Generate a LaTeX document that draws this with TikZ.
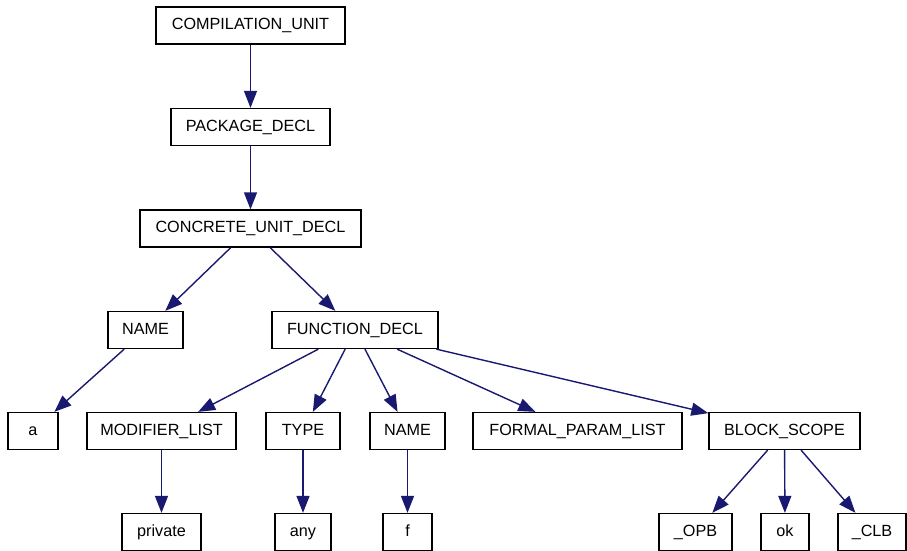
\documentclass[tikz,border=0pt]{standalone}
\usepackage{fontspec}
\setmainfont{Liberation Sans}
\usetikzlibrary{arrows.meta}
\definecolor{edgeblue}{RGB}{25,25,112}
\begin{document}
\begin{tikzpicture}[x=1pt,y=-1pt,
  tnode/.style={draw=black, line width=1.3pt, fill=white, inner sep=0pt,
    minimum height=37pt, text height=12pt, text depth=3.4pt,
    font=\fontsize{16.2}{19}\selectfont},
  edge/.style={draw=edgeblue, line width=1.4pt,
    -{Triangle[length=17pt,width=13pt]}}]
\useasboundingbox (0,0) rectangle (907,551);
% row 1-3
\node[tnode, minimum width=189pt] (cu)  at (250.5,25.5) {COMPILATION\_UNIT};
\node[tnode, minimum width=159pt] (pd)  at (250.5,127)  {PACKAGE\_DECL};
\node[tnode, minimum width=221pt] (cud) at (250.5,228.5) {CONCRETE\_UNIT\_DECL};
% row 4
\node[tnode, minimum width=75pt]  (nm1) at (145.5,330) {NAME};
\node[tnode, minimum width=166pt] (fd)  at (355,330)   {FUNCTION\_DECL};
% row 5
\node[tnode, minimum width=50pt]  (a)   at (33,431)    {a};
\node[tnode, minimum width=149pt] (ml)  at (161.5,431) {MODIFIER\_LIST};
\node[tnode, minimum width=74pt]  (ty)  at (303,431)   {TYPE};
\node[tnode, minimum width=75pt]  (nm2) at (407.5,431) {NAME};
\node[tnode, minimum width=209pt] (fpl) at (577.5,431) {FORMAL\_PARAM\_LIST};
\node[tnode, minimum width=151pt] (bs)  at (784.5,431) {BLOCK\_SCOPE};
% row 6
\node[tnode, minimum width=79pt]  (pv)  at (161.5,532) {private};
\node[tnode, minimum width=56pt]  (any) at (303,532)   {any};
\node[tnode, minimum width=49pt]  (f)   at (407.5,532) {f};
\node[tnode, minimum width=73pt]  (opb) at (695.5,532) {\_OPB};
\node[tnode, minimum width=48pt]  (ok)  at (785,532)   {ok};
\node[tnode, minimum width=68pt]  (clb) at (872,532)   {\_CLB};
% edges
\draw[edge] (cu) -- (pd);
\draw[edge] (pd) -- (cud);
\draw[edge] (cud) -- (nm1);
\draw[edge] (cud) -- (fd);
\draw[edge] (nm1) -- (a);
\draw[edge] (fd) -- (ml);
\draw[edge] (fd) -- (ty);
\draw[edge] (fd) -- (nm2);
\draw[edge] (fd) -- (fpl);
\draw[edge] (fd) -- (bs);
\draw[edge] (ml) -- (pv);
\draw[edge] (ty) -- (any);
\draw[edge] (nm2) -- (f);
\draw[edge] (bs) -- (opb);
\draw[edge] (bs) -- (ok);
\draw[edge] (bs) -- (clb);
\end{tikzpicture}
\end{document}
